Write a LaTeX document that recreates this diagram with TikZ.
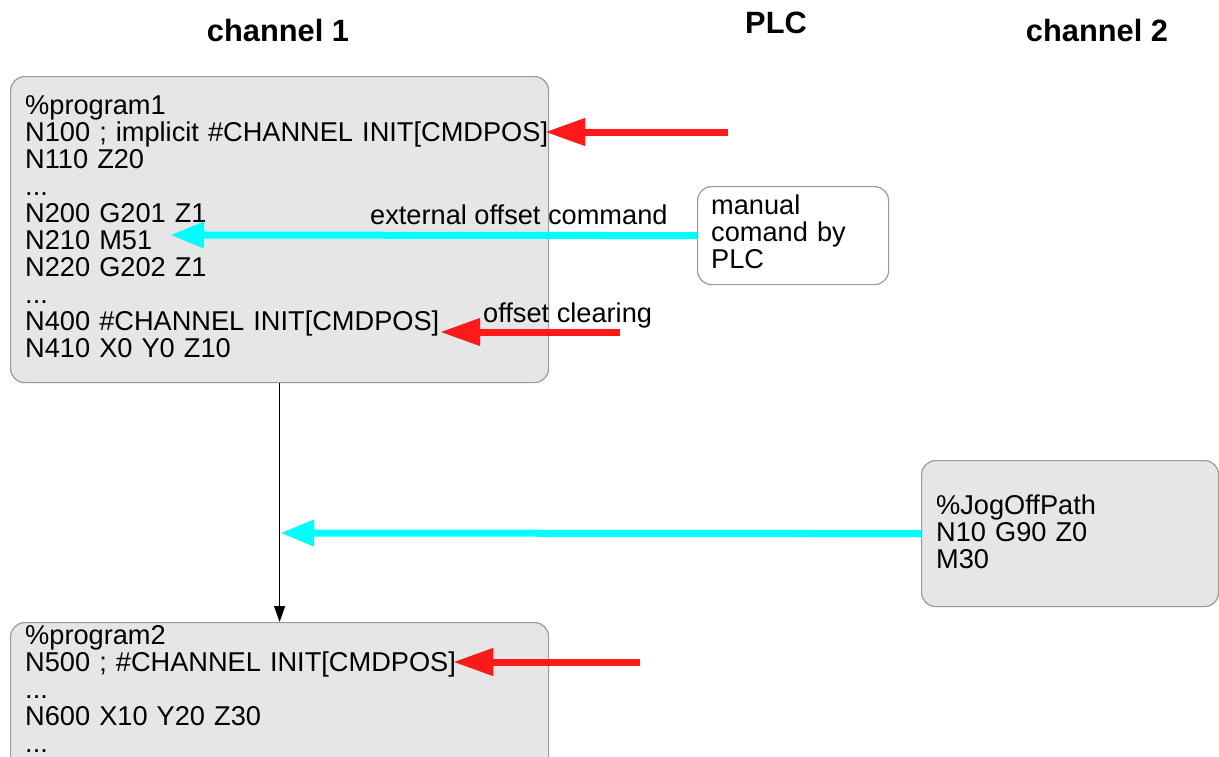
\documentclass[tikz,border=0pt]{standalone}
\usepackage{fontspec}
\setmainfont{Liberation Sans}
\usetikzlibrary{arrows.meta}

\definecolor{boxgray}{HTML}{E6E6E6}
\definecolor{boxline}{HTML}{9A9A9A}
\definecolor{offsetred}{HTML}{FF1A1A}
\definecolor{jogcyan}{HTML}{00FFFF}

\tikzset{
  prgbox/.style={draw=boxline, fill=boxgray, line width=1.2pt, rounded corners=14pt, inner sep=0pt, anchor=north west},
  plcbox/.style={draw=boxline, fill=white, line width=1.2pt, rounded corners=14pt, inner sep=0pt, anchor=north west},
  code/.style={anchor=base west, inner sep=0pt, align=left, font=\fontsize{27.2}{27}\selectfont},
  head/.style={anchor=base, inner sep=0pt, font=\fontsize{30.8}{32}\selectfont\bfseries},
  redarrow/.style={draw=offsetred, line width=7pt, -{Triangle[length=40pt,width=26pt]}},
  cyanarrow/.style={draw=jogcyan, line width=7pt, -{Triangle[length=34pt,width=25pt]}},
}

\begin{document}
\begin{tikzpicture}[x=1pt, y=-1pt]
  \useasboundingbox (0,0) rectangle (1219,756);
  \clip (0,0) rectangle (1219,756);

  % column heads
  \node[head] (ch1) at (278,41) {channel 1};
  \node[head] (plc) at (776,33) {PLC};
  \node[head] (ch2) at (1097,41) {channel 2};

  % channel 1, first program
  \node[prgbox, minimum width=538pt, minimum height=306pt] (prog1) at (10,76) {};
  \node[code, text width=530pt] (prog1txt) at (25,114.5) {\%program1\\
    N100 ; implicit \#CHANNEL INIT[CMDPOS]\\
    N110 Z20\\
    ...\\
    N200 G201 Z1\\
    N210 M51\\
    N220 G202 Z1\\
    ...\\
    N400 \#CHANNEL INIT[CMDPOS]\\
    N410 X0 Y0 Z10};

  % channel 1, second program
  \node[prgbox, minimum width=538pt, minimum height=170pt] (prog2) at (10,622) {};
  \node[code, text width=530pt] (prog2txt) at (25,644.5) {\%program2\\
    N500 ; \#CHANNEL INIT[CMDPOS]\\
    ...\\
    N600 X10 Y20 Z30\\
    ...};

  % PLC
  \node[plcbox, minimum width=191pt, minimum height=98pt] (manual) at (697,186) {};
  \node[code, text width=170pt] (manualtxt) at (711,214) {manual\\ comand by\\ PLC};

  % channel 2
  \node[prgbox, minimum width=297pt, minimum height=146pt] (jog) at (921,460) {};
  \node[code, text width=280pt] (jogtxt) at (936,514.5) {\%JogOffPath\\ N10 G90 Z0\\ M30};

  \coordinate (init1) at (545,132);
  \coordinate (plc1) at (728,132);
  \coordinate (m51) at (170,235);
  \coordinate (init2) at (440,332);
  \coordinate (clr) at (620,332);
  \coordinate (join) at (280,533);
  \coordinate (init3) at (453,662);
  \coordinate (plc3) at (640,662);

  \draw[redarrow] (plc1) -- (init1);
  \draw[cyanarrow] (manual.west) -- (m51);
  \node[code] (extlbl) at (370,224) {external offset command};
  \draw[redarrow] (clr) -- (init2);
  \node[code] (clrlbl) at (483,322) {offset clearing};

  \draw[line width=1.2pt, -{Triangle[length=16pt,width=11pt]}] (prog1.south) -- (prog2.north);
  \draw[cyanarrow] (jog.west) -- (join);
  \draw[redarrow] (plc3) -- (init3);
\end{tikzpicture}
\end{document}
